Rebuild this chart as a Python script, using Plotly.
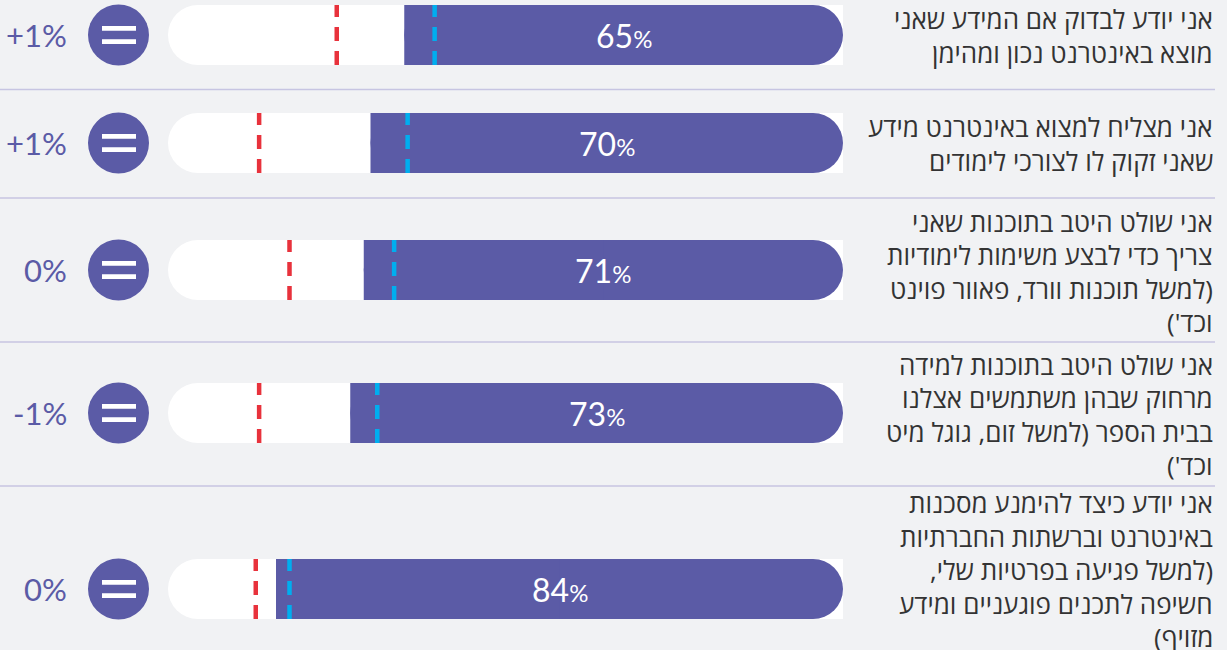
import plotly.graph_objects as go

W, H = 1227, 650

# data
labels = [
    ["אני יודע לבדוק אם המידע שאני", "מוצא באינטרנט נכון ומהימן"],
    ["אני מצליח למצוא באינטרנט מידע", "שאני זקוק לו לצורכי לימודים"],
    ["אני שולט היטב בתוכנות שאני", "צריך כדי לבצע משימות לימודיות",
     "(למשל תוכנות וורד, פאוור פוינט", "וכד')"],
    ["אני שולט היטב בתוכנות למידה", "מרחוק שבהן משתמשים אצלנו",
     "בבית הספר (למשל זום, גוגל מיט", "וכד')"],
    ["אני יודע כיצד להימנע מסכנות", "באינטרנט וברשתות החברתיות",
     "(למשל פגיעה בפרטיות שלי,", "חשיפה לתכנים פוגעניים ומידע", "מזויף)"],
]
values = [65, 70, 71, 73, 84]
blue_marks = [60.5, 64.5, 66.5, 69, 82]
red_marks = [75, 86.5, 82, 86.5, 87]
changes = [1, 1, 0, -1, 0]

# layout constants (pixels)
ROW_Y = [35, 143, 270, 413, 589]
LABEL_Y = [36, 144, 272, 415, 570]
SEP_Y = [89.5, 198, 342, 486]
BAR_H = 60
LINE_GAP = 33.5

PURPLE = "#5b5ba6"
BG = "#f1f2f4"
RLM = "\u200f"


def px(x):
    return x / W


fig = go.Figure()

# white track, rounded on the left (100%) end only
fig.add_trace(go.Bar(
    x=[100] * len(values), y=ROW_Y, orientation="h", width=BAR_H,
    marker=dict(color="white", cornerradius=30, line_width=0),
    hoverinfo="skip",
))
# purple value bar (rounded both ends because of base) ...
fig.add_trace(go.Bar(
    x=[-v for v in values], base=values, y=ROW_Y, orientation="h", width=BAR_H,
    marker=dict(color=PURPLE, cornerradius=30, line_width=0),
    hoverinfo="skip",
))
# ... so square off its left end with a plain piece
fig.add_trace(go.Bar(
    x=[-v / 2 for v in values], base=values, y=ROW_Y, orientation="h", width=BAR_H,
    marker=dict(color=PURPLE, line_width=0),
    hoverinfo="skip",
))


def mark_trace(marks, color):
    xs, ys = [], []
    for v, y in zip(marks, ROW_Y):
        xs += [v, v, None]
        ys += [y + BAR_H / 2, y - BAR_H / 2, None]
    return go.Scatter(x=xs, y=ys, mode="lines",
                      line=dict(color=color, width=4.5, dash="14px,10px"),
                      hoverinfo="skip")


fig.add_trace(mark_trace(red_marks, "#e8323c"))
fig.add_trace(mark_trace(blue_marks, "#00aeef"))

annotations = []
shapes = []
for i, y in enumerate(ROW_Y):
    v = values[i]
    annotations.append(dict(
        x=v / 2, y=y, xref="x", yref="y", showarrow=False,
        text=f"{v}<span style='font-size:24px'>%</span>",
        font=dict(family="Lato, Roboto, sans-serif", size=32, color="white"),
        xanchor="center", yanchor="middle",
    ))
    c = changes[i]
    ctext = "0%" if c == 0 else f"{c:+d}%"
    annotations.append(dict(
        x=px(69), y=y, xref="paper", yref="y", showarrow=False, text=ctext,
        font=dict(family="Lato, Roboto, sans-serif", size=31, color=PURPLE),
        xanchor="right", yanchor="middle",
    ))
    # "=" icon
    shapes.append(dict(type="circle", xref="paper", yref="y",
                       x0=px(88), x1=px(149), y0=y - 30.5, y1=y + 30.5,
                       fillcolor=PURPLE, line_width=0))
    for dy in (-6.7, 6.7):
        shapes.append(dict(type="rect", xref="paper", yref="y",
                           x0=px(102), x1=px(136), y0=y + dy - 2.4, y1=y + dy + 2.4,
                           fillcolor="white", line_width=0))
    lines = labels[i]
    n = len(lines)
    for k, ln in enumerate(lines):
        annotations.append(dict(
            x=px(1215), y=LABEL_Y[i] + (k - (n - 1) / 2) * LINE_GAP,
            xref="paper", yref="y", showarrow=False,
            text=RLM + ln + RLM,
            font=dict(family="Open Sans, DejaVu Sans, sans-serif", size=26, color="#333333"),
            xanchor="right", yanchor="middle",
        ))

for sy in SEP_Y:
    shapes.append(dict(type="line", xref="paper", yref="y",
                       x0=0, x1=px(1215), y0=sy, y1=sy,
                       line=dict(color="#c7c5e2", width=1.5)))

fig.update_layout(
    width=W, height=H,
    margin=dict(l=0, r=0, t=0, b=0),
    paper_bgcolor=BG, plot_bgcolor=BG,
    barmode="overlay", showlegend=False,
    xaxis=dict(range=[100, 0], domain=[px(168), px(843)], visible=False, fixedrange=True),
    yaxis=dict(range=[H, 0], domain=[0, 1], visible=False, fixedrange=True),
    annotations=annotations, shapes=shapes,
)

# the page's default 8px body margin would shift the whole chart
fig.write_html("out.html", config={"displayModeBar": False},
               post_script="document.body.style.margin='0px';")
